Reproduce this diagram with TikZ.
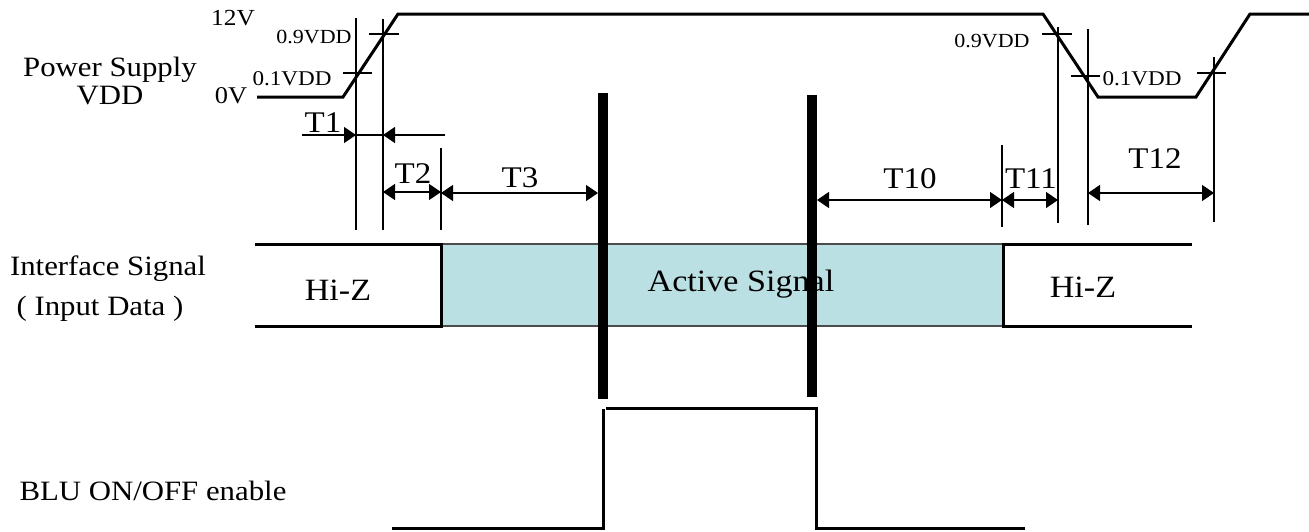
\documentclass[tikz,border=0pt]{standalone}
\usepackage{fontspec}
\setmainfont{Liberation Serif}[FakeStretch=1.1]
\usetikzlibrary{arrows.meta}

\definecolor{activefill}{RGB}{187,224,227}
\tikzset{
	wave/.style={line width=3pt},
	guide/.style={line width=2pt},
	bar/.style={line width=9.5pt},
	dim/.style={line width=1.4pt,{Triangle[length=12pt,width=16pt]}-{Triangle[length=12pt,width=16pt]}},
	dimend/.style={line width=1.4pt,-{Triangle[length=12pt,width=16pt]}},
	lbl/.style={anchor=base,inner sep=0pt,font=\fontsize{#1}{#1}\selectfont},
	lbl/.default=28
}

\begin{document}
\begin{tikzpicture}[x=1pt,y=-1pt]
		\useasboundingbox (0,0) rectangle (1309,531);
		% signal names
		\node[lbl] (vddname) at (110,76) {Power Supply};
		\node[lbl] (vddname2) at (110,104) {VDD};
		\node[lbl] (ifname) at (108,275) {Interface Signal};
		\node[lbl] (ifname2) at (100,315) {( Input Data )};
		\node[lbl] (bluname) at (153,500) {BLU ON/OFF enable};
		% levels
		\node[lbl=23] (vhigh) at (233,25) {12V};
		\node[lbl=24] (vlow) at (231,103) {0V};
		\node[lbl=20] (up90) at (314,43) {0.9VDD};
		\node[lbl=21] (up10) at (292,85) {0.1VDD};
		\node[lbl=20] (dn90) at (992,47) {0.9VDD};
		\node[lbl=21] (dn10) at (1142,85) {0.1VDD};
		% VDD
		\draw[wave] (257,97) -- (343,97) -- (398,14) -- (1043,14)
							-- (1098,97) -- (1196,97) -- (1250,14) -- (1309,14);
		\draw[guide] (343,73) -- (372,73);
		\draw[guide] (369,34) -- (399,34);
		\draw[guide] (1042,34) -- (1072,34);
		\draw[guide] (1071,76) -- (1100,76);
		\draw[guide] (1197,73) -- (1226,73);
		\draw[guide] (356,18) -- (356,230);
		\draw[guide] (383,19) -- (383,230);
		\draw[guide] (441,148) -- (441,230);
		\draw[guide] (1002,145) -- (1002,227);
		\draw[guide] (1058,27) -- (1058,223);
		\draw[guide] (1088,29) -- (1088,225);
		\draw[guide] (1214,57) -- (1214,222);
		% timings
		\draw[dimend] (302,135) -- (356,135);
		\draw[dimend] (445,135) -- (383,135);
		\draw[line width=1.4pt] (356,135) -- (383,135);
		\draw[dim] (383,192) -- (441,192);
		\draw[dim] (441,193) -- (598,193);
		\draw[dim] (817,200) -- (1002,200);
		\draw[dim] (1002,200) -- (1058,200);
		\draw[dim] (1088,193) -- (1214,193);
		\node[lbl=30] (t1) at (323,132) {T1};
		\node[lbl=30] (t2) at (413,183) {T2};
		\node[lbl=30] (t3) at (520,187) {T3};
		\node[lbl=30] (t10) at (910,188) {T10};
		\node[lbl=30] (t11) at (1031,188) {T11};
		\node[lbl=30] (t12) at (1155,168) {T12};
		% interface signal
		\fill[activefill] (441,244) rectangle (1003,326);
		\draw[line width=1.5pt,draw=black!70] (441,244) -- (1003,244) (441,326) -- (1003,326);
		\draw[wave] (255,244) -- (441,244) -- (441,326) -- (255,326);
		\draw[wave] (1192,244) -- (1003,244) -- (1003,326) -- (1192,326);
		\node[lbl=31] (hiz1) at (338,300) {Hi-Z};
		\node[lbl=31] (hiz2) at (1083,297) {Hi-Z};
		\node[lbl=31] (active) at (741,291) {Active Signal};
		% BLU
		\draw[bar] (603,93) -- (603,399);
		\draw[bar] (812,95) -- (812,397);
		\draw[wave] (392,528) -- (603,528) -- (603,409);
		\draw[wave] (606,408) -- (818,408);
		\draw[wave] (816,410) -- (816,528) -- (1025,528);
	\end{tikzpicture}
\end{document}
